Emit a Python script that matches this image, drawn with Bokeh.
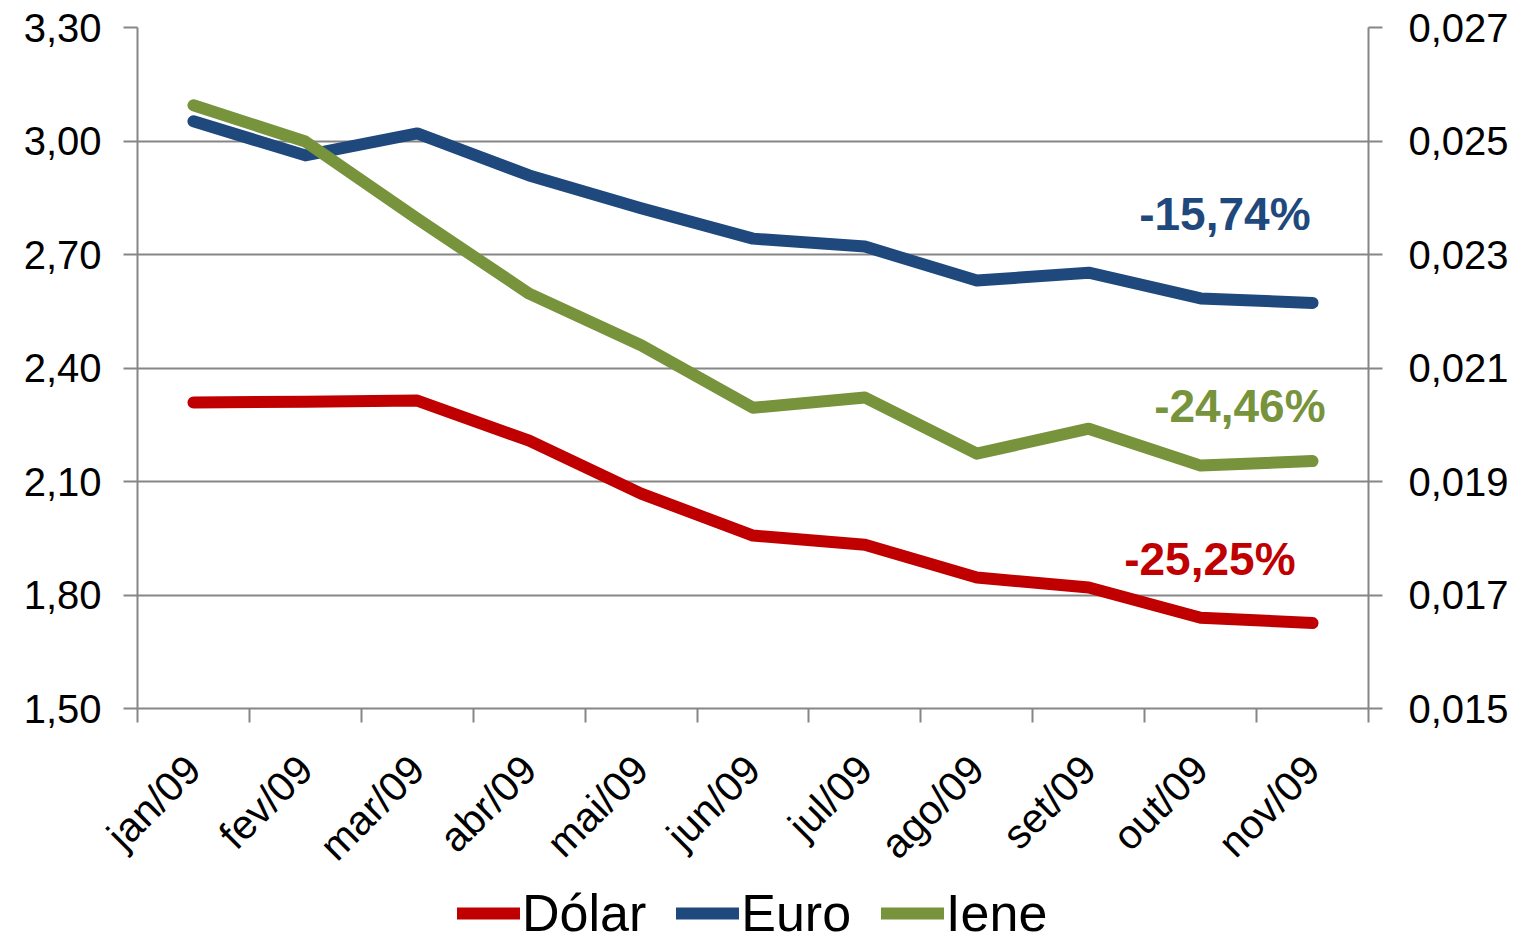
from bokeh.plotting import figure
from bokeh.layouts import column
from bokeh.models import (Range1d, LinearAxis, FixedTicker, Legend, LegendItem, Label)
from bokeh.embed import file_html
from bokeh.resources import INLINE

months = ["jan/09", "fev/09", "mar/09", "abr/09", "mai/09", "jun/09",
          "jul/09", "ago/09", "set/09", "out/09", "nov/09"]
dolar = [2.309, 2.311, 2.314, 2.208, 2.068, 1.957, 1.933, 1.846, 1.820, 1.740, 1.726]
euro = [3.052, 2.962, 3.020, 2.909, 2.822, 2.742, 2.721, 2.631, 2.652, 2.584, 2.572]
iene = [0.02563, 0.02499, 0.02363, 0.02231, 0.02140, 0.02030, 0.02048, 0.01949,
        0.01993, 0.01928, 0.01936]
left_ticks = [1.50, 1.80, 2.10, 2.40, 2.70, 3.00, 3.30]
left_labels = ["1,50", "1,80", "2,10", "2,40", "2,70", "3,00", "3,30"]
right_ticks = [0.015, 0.017, 0.019, 0.021, 0.023, 0.025, 0.027]
right_labels = ["0,015", "0,017", "0,019", "0,021", "0,023", "0,025", "0,027"]
series_names = ["Dólar", "Euro", "Iene"]
pct_labels = ["-25,25%", "-15,74%", "-24,46%"]

RED, BLUE, GREEN = "#C00000", "#1F497D", "#77933C"
GRID = "#868686"
FONT = "Liberation Sans"
LW = 12

x = [i + 0.5 for i in range(len(months))]

p = figure(frame_width=1231, frame_height=681, output_backend="svg", toolbar_location=None,
           x_range=Range1d(0, len(months)), y_range=Range1d(left_ticks[0], left_ticks[-1]),
           min_border_left=137, min_border_right=160, min_border_top=27,
           min_border_bottom=160, x_axis_location="below")
p.extra_y_ranges = {"yen": Range1d(right_ticks[0], right_ticks[-1])}
p.outline_line_color = None
p.background_fill_color = "white"
p.border_fill_color = "white"

p.xgrid.visible = False
p.ygrid.ticker = FixedTicker(ticks=left_ticks)
p.ygrid.grid_line_color = GRID
p.ygrid.grid_line_width = 2

yl = p.yaxis[0]
yl.ticker = FixedTicker(ticks=left_ticks)
yl.major_label_overrides = dict(zip(left_ticks, left_labels))

yr = LinearAxis(y_range_name="yen", ticker=FixedTicker(ticks=right_ticks))
yr.major_label_overrides = dict(zip(right_ticks, right_labels))
p.add_layout(yr, "right")

for ax in (yl, yr):
    ax.axis_line_color = GRID
    ax.axis_line_width = 2
    ax.major_tick_line_color = GRID
    ax.major_tick_line_width = 2
    ax.major_tick_out = 14
    ax.major_tick_in = 0
    ax.minor_tick_line_color = None
    ax.major_label_text_font = FONT
    ax.major_label_text_font_size = "40px"
    ax.major_label_text_color = "black"
yl.major_label_standoff = 22
yr.major_label_standoff = 26

xa = p.xaxis[0]
xa.ticker = FixedTicker(ticks=x, minor_ticks=list(range(len(months) + 1)))
xa.major_label_overrides = dict(zip(x, months))
xa.axis_line_color = GRID
xa.axis_line_width = 2
xa.major_tick_line_color = None
xa.minor_tick_line_color = GRID
xa.minor_tick_line_width = 2
xa.minor_tick_out = 14
xa.minor_tick_in = 0
xa.major_tick_out = 14
xa.major_tick_in = 0
xa.major_label_orientation = 0.785398
xa.major_label_text_font = FONT
xa.major_label_text_font_size = "41px"
xa.major_label_text_color = "black"
xa.major_label_standoff = 40

styles = [dict(line_color=RED), dict(line_color=BLUE), dict(line_color=GREEN)]
common = dict(line_width=LW, line_cap="round", line_join="round")

p.line(x, dolar, **styles[0], **common)
p.line(x, euro, **styles[1], **common)
p.line(x, iene, y_range_name="yen", **styles[2], **common)

p.add_layout(Label(x=x[-1], y=dolar[-1], text=pct_labels[0], x_offset=-17, y_offset=38,
                   text_align="right", text_font=FONT, text_font_style="bold",
                   text_font_size="46px", text_color=RED))
p.add_layout(Label(x=x[-1], y=euro[-1], text=pct_labels[1], x_offset=-2, y_offset=63,
                   text_align="right", text_font=FONT, text_font_style="bold",
                   text_font_size="46px", text_color=BLUE))
p.add_layout(Label(x=x[-1], y=iene[-1], y_range_name="yen", text=pct_labels[2],
                   x_offset=13, y_offset=29,
                   text_align="right", text_font=FONT, text_font_style="bold",
                   text_font_size="46px", text_color=GREEN))

# legend strip below the chart (its series lie outside its empty ranges,
# so only the legend entries are visible)
main_h = 27 + 681 + 160
lg = figure(width=1528, height=942 - main_h, output_backend="svg", toolbar_location=None,
            x_axis_location=None, y_axis_location=None,
            min_border_left=0, min_border_right=0, min_border_top=0, min_border_bottom=0,
            x_range=Range1d(0, 1), y_range=Range1d(-2, -1))
lg.outline_line_color = None
lg.xgrid.visible = False
lg.ygrid.visible = False
series = [dolar, euro, iene]
proxies = [lg.line(x, s, **st, **common) for s, st in zip(series, styles)]
legend = Legend(items=[LegendItem(label=n, renderers=[r]) for n, r in zip(series_names, proxies)],
                orientation="horizontal", location=(320, 942 - main_h - 30 - 25),
                label_text_font=FONT, label_text_font_size="52px", label_text_color="black",
                glyph_width=63, glyph_height=40, label_standoff=2, spacing=30,
                padding=0, margin=0, border_line_color=None,
                background_fill_alpha=0)
lg.add_layout(legend, "center")

layout = column(p, lg, spacing=0)
open("out.html", "w").write(file_html(layout, INLINE))
